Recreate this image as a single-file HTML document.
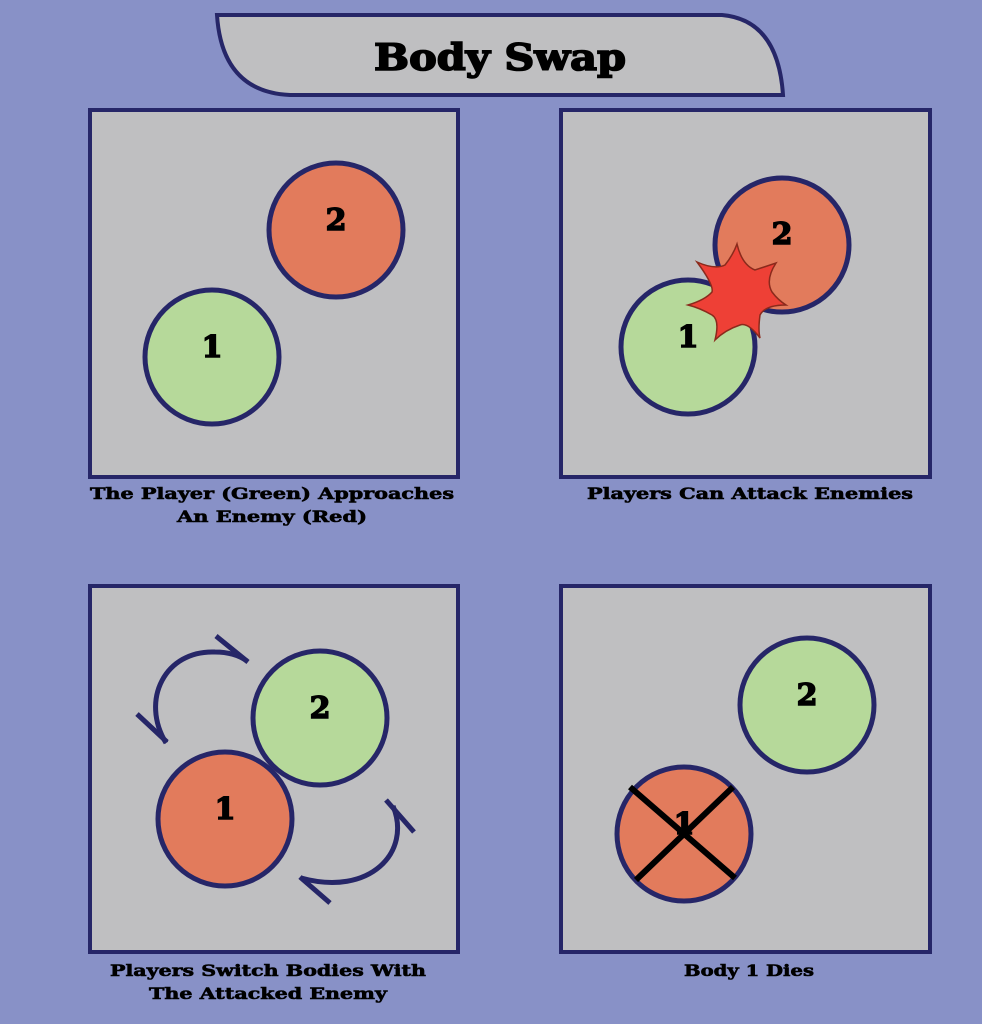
<!DOCTYPE html>
<html><head><meta charset="utf-8"><style>
html,body{margin:0;padding:0;background:#8891c7;}
svg{display:block}
text{font-family:"DejaVu Serif","Liberation Serif",serif;font-weight:bold;fill:#000;stroke:#000;text-anchor:middle}
</style></head><body>
<svg width="982" height="1024" viewBox="0 0 982 1024" xmlns="http://www.w3.org/2000/svg">
<rect width="982" height="1024" fill="#8891c7"/>
<path d="M217,15 H722 Q778,20 783,95 H290 Q222,92 217,15 Z" fill="#bfbfc1" stroke="#262668" stroke-width="4"/>
<text x="500" y="70" font-size="36" stroke-width="1.6" textLength="252" lengthAdjust="spacingAndGlyphs">Body Swap</text>
<g fill="#bfbfc1" stroke="#262668" stroke-width="4">
<rect x="90" y="110" width="368" height="367"/>
<rect x="561" y="110" width="369" height="367"/>
<rect x="90" y="586" width="368" height="366"/>
<rect x="561" y="586" width="369" height="366"/>
</g>
<g stroke="#262668" stroke-width="5">
<circle cx="336" cy="230" r="67" fill="#e27b5c"/>
<circle cx="212" cy="357" r="67" fill="#b6d99a"/>
<circle cx="782" cy="245" r="67" fill="#e27b5c"/>
<circle cx="688" cy="347" r="67" fill="#b6d99a"/>
<circle cx="320" cy="718" r="67" fill="#b6d99a"/>
<circle cx="225" cy="819" r="67" fill="#e27b5c"/>
<circle cx="807" cy="705" r="67" fill="#b6d99a"/>
<circle cx="684" cy="834" r="67" fill="#e27b5c"/>
</g>
<path d="M737,244 Q742,265 755,270 Q770,265 776,263 Q765,280 772,292 Q778,300 786,305 Q765,305 760,315 Q758,330 760,338 Q748,322 740,325 Q725,330 715,340 Q720,320 712,315 Q700,308 688,305 Q705,300 712,292 Q714,285 697,262 Q715,270 725,265 Q733,255 737,244 Z" fill="#ee4036" stroke="#8a2a1c" stroke-width="1.5"/>
<g font-size="30" stroke-width="1.5">
<text x="336" y="230">2</text>
<text x="212" y="357">1</text>
<text x="782" y="244">2</text>
<text x="688" y="347">1</text>
<text x="320" y="718">2</text>
<text x="225" y="819">1</text>
<text x="807" y="705">2</text>
<text x="684" y="834">1</text>
</g>
<g stroke="#000" stroke-width="6" stroke-linecap="butt">
<line x1="630" y1="787" x2="735" y2="878"/>
<line x1="733" y1="787" x2="636" y2="880"/>
</g>
<g fill="none" stroke="#262668" stroke-width="5">
<path d="M166,743 C140,700 165,650 215,652 C230,652 240,656 247,661"/>
<path d="M137,714 L167,742 M216,636 L248,662"/>
<path d="M393,806 C412,852 370,897 301,878"/>
<path d="M386,800 L414,832 M300,877 L330,903"/>
</g>
<g font-size="16" stroke-width="0.6">
<text x="272" y="499" textLength="364" lengthAdjust="spacingAndGlyphs">The Player (Green) Approaches</text>
<text x="272" y="522" textLength="190" lengthAdjust="spacingAndGlyphs">An Enemy (Red)</text>
<text x="750" y="499" textLength="326" lengthAdjust="spacingAndGlyphs">Players Can Attack Enemies</text>
<text x="268" y="976" textLength="316" lengthAdjust="spacingAndGlyphs">Players Switch Bodies With</text>
<text x="268" y="999" textLength="238" lengthAdjust="spacingAndGlyphs">The Attacked Enemy</text>
<text x="749" y="976" textLength="130" lengthAdjust="spacingAndGlyphs">Body 1 Dies</text>
</g>
</svg>
</body></html>
